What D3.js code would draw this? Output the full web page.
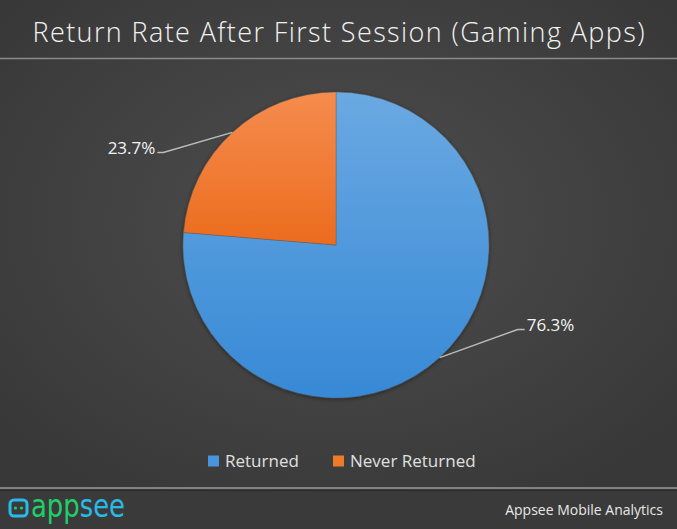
<!DOCTYPE html>
<html><head><meta charset="utf-8">
<script src="https://cdn.jsdelivr.net/npm/d3@7"></script>
<style>html,body{margin:0;padding:0;background:#3b3b3b;overflow:hidden}</style>
</head><body>
<svg id="c" width="677" height="529"></svg>
<script>
const categories = ["Returned", "Never Returned"];
const values = [76.3, 23.7];
const labels = ["76.3%", "23.7%"];
const colors = ["#4a94dc", "#f07a2c"];
const titleText = "Return Rate After First Session (Gaming Apps)";

const W = 677, H = 529;
const svg = d3.select("#c");
const defs = svg.append("defs");

const bg = defs.append("radialGradient").attr("id","bg").attr("cx","50%").attr("cy","45%").attr("r","65%");
bg.append("stop").attr("offset","0%").attr("stop-color","#4e4e4e");
bg.append("stop").attr("offset","100%").attr("stop-color","#383838");

const gB = defs.append("linearGradient").attr("id","gB").attr("x1",0).attr("y1",0).attr("x2",0).attr("y2",1);
gB.append("stop").attr("offset","0%").attr("stop-color","#6aa9e2");
gB.append("stop").attr("offset","100%").attr("stop-color","#3789d6");
const gO = defs.append("linearGradient").attr("id","gO").attr("x1",0).attr("y1",0).attr("x2",0).attr("y2",1);
gO.append("stop").attr("offset","0%").attr("stop-color","#f58c4e");
gO.append("stop").attr("offset","100%").attr("stop-color","#ec6c1e");
const fills = ["url(#gB)", "url(#gO)"];

const gL = defs.append("linearGradient").attr("id","gL").attr("gradientUnits","userSpaceOnUse")
  .attr("x1",31).attr("y1",0).attr("x2",125).attr("y2",0);
gL.append("stop").attr("offset","0.5").attr("stop-color","#1fcf6a");
gL.append("stop").attr("offset","0.5").attr("stop-color","#29b9ea");

const sh = defs.append("filter").attr("id","sh").attr("x","-20%").attr("y","-20%").attr("width","140%").attr("height","140%");
sh.append("feDropShadow").attr("dx",0).attr("dy",1).attr("stdDeviation",2).attr("flood-color","#000").attr("flood-opacity",0.45);

svg.append("rect").attr("width",W).attr("height",490).attr("fill","url(#bg)");

// title
svg.append("text").attr("x",W/2).attr("y",42).attr("text-anchor","middle")
  .attr("font-family","'Open Sans', 'Noto Sans', sans-serif").attr("font-size",27).attr("font-weight",300)
  .attr("fill","#f2f2f2").attr("textLength",612).attr("lengthAdjust","spacing")
  .text(titleText);
svg.append("line").attr("x1",0).attr("x2",W).attr("y1",58.5).attr("y2",58.5)
  .attr("stroke","#8a8a8a").attr("stroke-width",1.5);

// pie
const cx = 336, cy = 245, R = 153;
const pie = d3.pie().sort(null).value(d => d)(values);
const arc = d3.arc().innerRadius(0).outerRadius(R);
const g = svg.append("g").attr("transform",`translate(${cx},${cy})`);
g.append("g").attr("filter","url(#sh)").selectAll("path").data(pie).join("path")
  .attr("d",arc).attr("fill",(d,i)=>fills[i]).attr("stroke","#5a5a5a").attr("stroke-width",0.4);

// leader lines & labels
const elbowDx = [78, -69], elbowDy = [-28, 20], hx = [7, -6];
pie.forEach((d,i)=>{
  const a = (d.startAngle + d.endAngle)/2;
  const px = R*Math.sin(a), py = -R*Math.cos(a);
  const ex = px + elbowDx[i], ey = py + elbowDy[i];
  const hx2 = ex + hx[i];
  g.append("polyline").attr("points",`${px},${py} ${ex},${ey} ${hx2},${ey}`)
    .attr("fill","none").attr("stroke","#bdbdbd").attr("stroke-width",1.3);
  g.append("text").attr("x", hx2 + (hx[i] > 0 ? 2 : -2)).attr("y", ey + 1)
    .attr("text-anchor", hx[i] > 0 ? "start" : "end")
    .attr("font-family","'Open Sans', 'Noto Sans', sans-serif").attr("font-size",17)
    .attr("fill","#f4f4f4").text(labels[i]);
});

// legend
const legX = [208, 333];
const lg = svg.append("g");
categories.forEach((c,i)=>{
  lg.append("rect").attr("x",legX[i]).attr("y",455.5).attr("width",11).attr("height",11).attr("fill",colors[i]);
  lg.append("text").attr("x",legX[i]+17).attr("y",467)
    .attr("font-family","'Open Sans', 'Noto Sans', sans-serif").attr("font-size",17)
    .attr("fill","#e0e0e0").text(c);
});

// footer
svg.append("rect").attr("x",0).attr("y",490).attr("width",W).attr("height",39).attr("fill","#3a3a3a");
svg.append("line").attr("x1",0).attr("x2",W).attr("y1",488).attr("y2",488).attr("stroke","#9a9a9a").attr("stroke-width",1.5);
svg.append("line").attr("x1",0).attr("x2",W).attr("y1",490.5).attr("y2",490.5).attr("stroke","#2a2a2a").attr("stroke-width",1.2);

// logo
const logo = svg.append("g");
logo.append("rect").attr("x",10).attr("y",500).attr("width",17).attr("height",16).attr("rx",4)
  .attr("fill","none").attr("stroke","#29b9ea").attr("stroke-width",3);
logo.append("circle").attr("cx",15.5).attr("cy",508).attr("r",1.6).attr("fill","#1fcf6a");
logo.append("circle").attr("cx",21.5).attr("cy",508).attr("r",1.6).attr("fill","#1fcf6a");
logo.append("text").attr("x",31).attr("y",517)
  .attr("font-family","'DejaVu Sans Condensed', 'Liberation Sans Narrow', sans-serif").attr("font-size",32)
  .attr("textLength",94).attr("lengthAdjust","spacingAndGlyphs").attr("fill","url(#gL)").text("appsee");

svg.append("text").attr("x",663).attr("y",515).attr("text-anchor","end")
  .attr("font-family","'Open Sans', 'Noto Sans', sans-serif").attr("font-size",14)
  .attr("fill","#e8e8e8").text("Appsee Mobile Analytics");
</script>
</body></html>
